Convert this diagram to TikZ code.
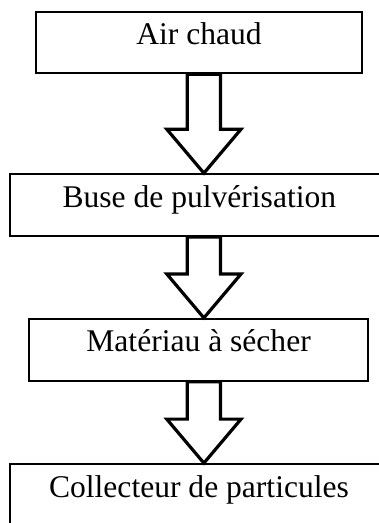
\documentclass[tikz,border=0pt]{standalone}
\usepackage{fontspec}
\setmainfont{Liberation Serif}
\usetikzlibrary{calc}

\tikzset{
  etape/.style={draw,line width=1.5pt,inner xsep=0pt,inner ysep=0pt,
    text height=0.87cm,text depth=0.76cm,
    font=\fontsize{23.7}{28}\selectfont},
  creuse/.style={draw,fill=white,line width=2.4pt,line join=miter}
}

% grosse fleche creuse entre deux etapes
\newcommand{\flechecreuse}[2]{%
\path[creuse] let \p1=(#1.south -| axe), \p2=(#2.north -| axe) in
  (\x1-0.44cm,\y1) -- (\x1-0.44cm,\y2+1.16cm) -- (\x1-0.98cm,\y2+1.16cm)
  -- (\x2,\y2) -- (\x1+0.98cm,\y2+1.16cm) -- (\x1+0.44cm,\y2+1.16cm)
  -- (\x1+0.44cm,\y1) -- cycle;}

\begin{document}
\begin{tikzpicture}
\clip (0,0) rectangle (10,-13.8);
\coordinate (axe) at (5.38,0);
\node[etape,minimum width=8.60cm] (air) at (5.25,-1.12) {Air chaud};
\node[etape,minimum width=10.0cm] (buse) at (5.26,-5.41) {Buse de pulvérisation};
\node[etape,minimum width=8.94cm] (mat) at (5.24,-9.23) {Matériau à sécher};
\node[etape,minimum width=9.97cm] (coll) at (5.25,-13.06) {Collecteur de particules};
\flechecreuse{air}{buse}
\flechecreuse{buse}{mat}
\flechecreuse{mat}{coll}
\end{tikzpicture}
\end{document}
